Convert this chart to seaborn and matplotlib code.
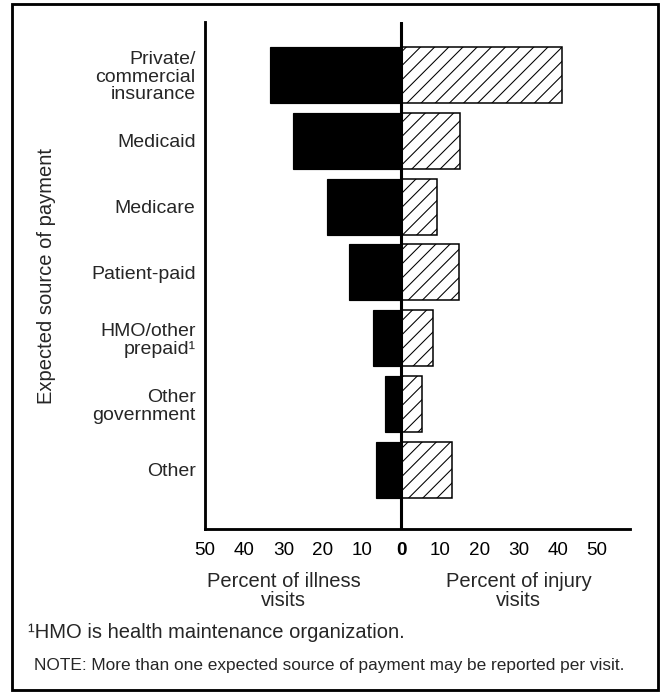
import matplotlib
matplotlib.use("Agg")
import matplotlib.pyplot as plt
import pandas as pd
import seaborn as sns
from matplotlib.patches import Rectangle

categories = [
    "Private/\ncommercial\ninsurance",
    "Medicaid",
    "Medicare",
    "Patient-paid",
    "HMO/other\nprepaid\u00b9",
    "Other\ngovernment",
    "Other",
]
illness_pct = [33.5, 27.5, 18.9, 13.3, 7.1, 4.1, 6.3]
injury_pct = [41.0, 15.1, 9.2, 14.8, 8.2, 5.4, 13.0]
tick_values = [-50, -40, -30, -20, -10, 0, 10, 20, 30, 40, 50]
tick_labels = ["50", "40", "30", "20", "10", "0", "10", "20", "30", "40", "50"]

df = pd.DataFrame({
    "source": categories,
    "illness": [-v for v in illness_pct],
    "injury": injury_pct,
})

sns.set_style("white")
plt.rcParams["font.family"] = ["Liberation Sans", "DejaVu Sans"]
plt.rcParams["hatch.linewidth"] = 0.9
plt.rcParams["hatch.color"] = "black"

DPI = 85
fig = plt.figure(figsize=(662 / DPI, 692 / DPI), dpi=DPI)
ax = fig.add_axes([205 / 662, 1 - 529 / 692, 425 / 662, 507 / 692])

sns.barplot(data=df, x="illness", y="source", color="black", width=0.85,
            errorbar=None, edgecolor="black", linewidth=1.0, ax=ax)
sns.barplot(data=df, x="injury", y="source", color="white", width=0.85,
            errorbar=None, edgecolor="black", linewidth=1.3, hatch="//", ax=ax)
for p in ax.patches:
    if p.get_width() > 0:
        p.set_facecolor("white")

ax.axvline(0, color="black", lw=2.6, zorder=5)

ax.set_xlim(-50, 58.4)
ax.set_ylim(6.90, -0.805)

for side in ["top", "right"]:
    ax.spines[side].set_visible(False)
for side in ["left", "bottom"]:
    ax.spines[side].set_linewidth(2.4)
    ax.spines[side].set_color("black")

ax.set_xticks(tick_values)
ax.set_xticklabels(tick_labels, fontsize=16)
ax.tick_params(axis="x", direction="in", length=12, width=2.2, pad=11, colors="black")
ax.get_xticklabels()[5].set_fontweight("bold")
ax.tick_params(axis="y", length=0, pad=8, labelsize=16.5)
for lab in ax.get_yticklabels():
    lab.set_linespacing(1.05)

ax.set_xlabel("")
ax.set_ylabel("Expected source of payment", fontsize=17, labelpad=30)

tr = ax.get_xaxis_transform()
ax.text(-30, -0.085, "Percent of illness\nvisits", transform=tr, ha="center",
        va="top", fontsize=17, linespacing=1.0)
ax.text(30, -0.085, "Percent of injury\nvisits", transform=tr, ha="center",
        va="top", fontsize=17, linespacing=1.0)

fig.text(28 / 662, 1 - 638 / 692, "\u00b9HMO is health maintenance organization.",
         fontsize=17, va="baseline", ha="left")
fig.text(34 / 662, 1 - 670 / 692,
         "NOTE: More than one expected source of payment may be reported per visit.",
         fontsize=14.6, va="baseline", ha="left")

fig.patches.append(Rectangle((12 / 662, 1 - 690 / 692), 646 / 662, 686 / 692,
                             transform=fig.transFigure, fill=False,
                             edgecolor="black", linewidth=2.4))

fig.savefig("out.png", dpi=DPI)
